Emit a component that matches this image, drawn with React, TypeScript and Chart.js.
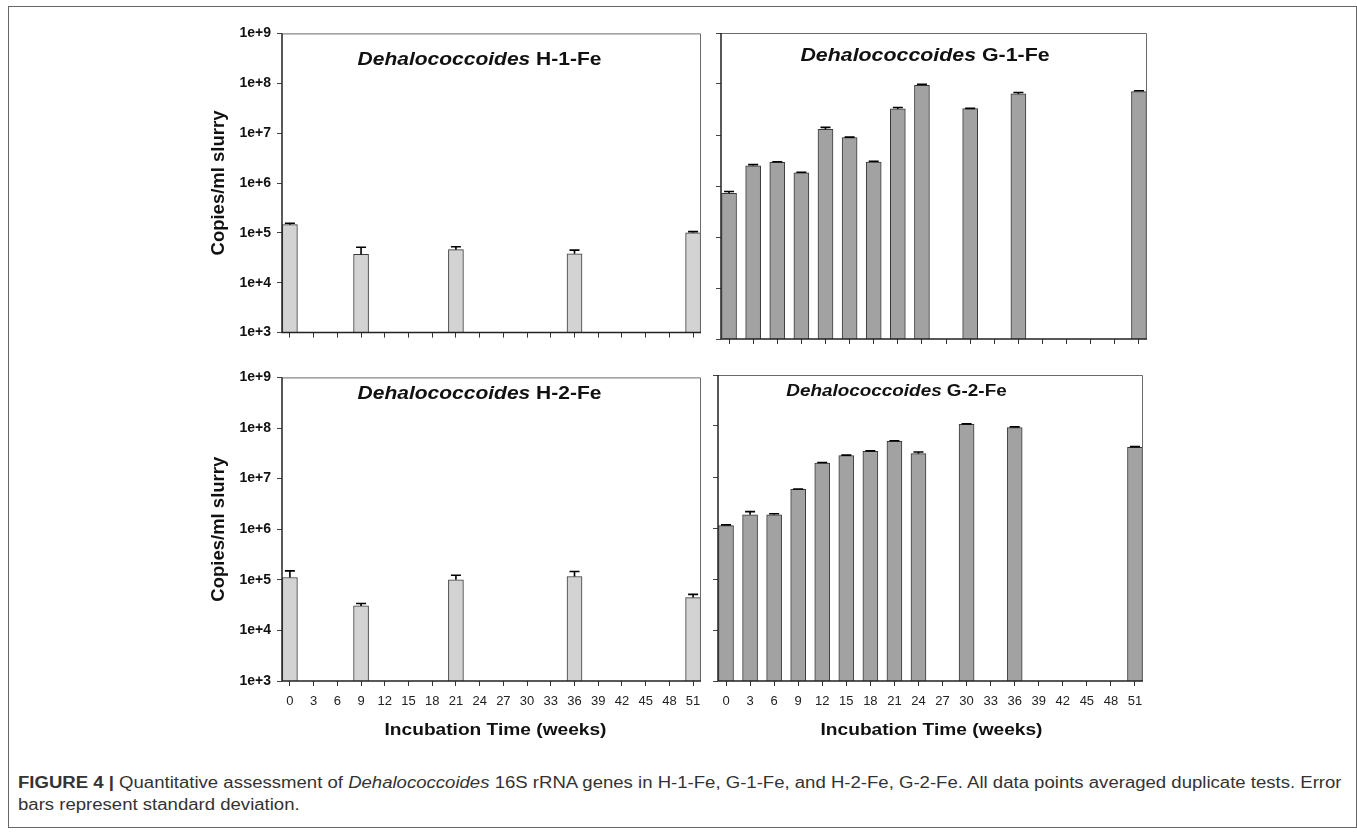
import React, { useEffect, useRef } from "react";
import { Chart, registerables } from "chart.js";

Chart.register(...registerables);

const FONT = '"Liberation Sans", Arial, Helvetica, sans-serif';

// ---------- data ----------
const weeks = [0, 3, 6, 9, 12, 15, 18, 21, 24, 27, 30, 33, 36, 39, 42, 45, 48, 51];
const yTickValues = [1e3, 1e4, 1e5, 1e6, 1e7, 1e8, 1e9];

const h1Values = [1.46e5, null, null, 3.7e4, null, null, null, 4.6e4, null, null, null, null, 3.8e4, null, null, null, null, 1.0e5];
const h1Errors = [0.1e5, null, null, 1.45e4, null, null, null, 0.65e4, null, null, null, null, 0.7e4, null, null, null, null, 0.06e5];

const g1Values = [7.2e5, 2.5e6, 2.9e6, 1.82e6, 1.29e7, 8.9e6, 2.95e6, 3.25e7, 9.4e7, null, 3.3e7, null, 6.4e7, null, null, null, null, 7.1e7];
const g1Errors = [0.6e5, 1.2e5, 0.9e5, 0.4e5, 1.2e6, 0.2e6, 0.1e6, 2.0e6, 4.5e6, null, 0.3e6, null, 4.0e6, null, null, null, null, 2.5e6];

const h2Values = [1.11e5, null, null, 3.05e4, null, null, null, 1.0e5, null, null, null, null, 1.16e5, null, null, null, null, 4.45e4];
const h2Errors = [0.39e5, null, null, 0.34e4, null, null, null, 0.23e5, null, null, null, null, 0.3e5, null, null, null, null, 0.7e4];

const g2Values = [1.11e6, 1.82e6, 1.82e6, 5.7e6, 1.88e7, 2.62e7, 3.18e7, 5.0e7, 2.87e7, null, 1.08e8, null, 9.3e7, null, null, null, null, 3.82e7];
const g2Errors = [0.04e6, 0.27e6, 0.08e6, 0.1e6, 0.5e6, 0.6e6, 0.8e6, 1.5e6, 2.2e6, null, 2.0e6, null, 3.0e6, null, null, null, null, 1.2e6];

const genusName = "Dehalococcoides";
const yAxisTitle = "Copies/ml slurry";
const xAxisTitle = "Incubation Time (weeks)";

// ---------- layout / style ----------
type Area = { l: number; t: number; r: number; b: number };
type PanelCfg = {
  id: string;
  label: string;
  values: (number | null)[];
  errors: (number | null)[];
  fill: string;
  area: Area;
  yLabels: boolean;
  xLabels: boolean;
  titleSize: number;
  titleScale: number;
  titleDx: number;
  titleDy: number;
  xTitleDx: number;
};

const panels: PanelCfg[] = [
  { id: "h1", label: " H-1-Fe", values: h1Values, errors: h1Errors, fill: "#d3d3d3", area: { l: 282, t: 31, r: 701, b: 337 }, yLabels: true, xLabels: false, titleSize: 17.5, titleScale: 1.2, titleDx: -12, titleDy: 27, xTitleDx: 0 },
  { id: "g1", label: " G-1-Fe", values: g1Values, errors: g1Errors, fill: "#a2a2a2", area: { l: 721, t: 33, r: 1147, b: 339 }, yLabels: false, xLabels: false, titleSize: 17.5, titleScale: 1.22, titleDx: -9, titleDy: 23, xTitleDx: 0 },
  { id: "h2", label: " H-2-Fe", values: h2Values, errors: h2Errors, fill: "#d3d3d3", area: { l: 282, t: 375, r: 701, b: 681 }, yLabels: true, xLabels: true, titleSize: 17.5, titleScale: 1.2, titleDx: -12, titleDy: 17, xTitleDx: 4 },
  { id: "g2", label: " G-2-Fe", values: g2Values, errors: g2Errors, fill: "#a2a2a2", area: { l: 718, t: 375, r: 1143, b: 681 }, yLabels: false, xLabels: true, titleSize: 16, titleScale: 1.18, titleDx: -34, titleDy: 17, xTitleDx: 1 },
];

function Panel({ cfg }: { cfg: PanelCfg }) {
  const ref = useRef<HTMLCanvasElement>(null);
  const yW = cfg.yLabels ? 78 : 10;
  const xH = cfg.xLabels ? 63 : 10;
  const padT = 12;
  const padR = 14;
  const left = cfg.area.l - yW;
  const top = cfg.area.t - padT;
  const width = cfg.area.r + padR - left;
  const height = cfg.area.b + xH - top;

  useEffect(() => {
    const canvas = ref.current;
    if (!canvas) return;
    const points: { x: number; y: number }[] = [];
    weeks.forEach((w, i) => {
      const v = cfg.values[i];
      if (v != null) points.push({ x: w, y: v });
    });

    const errorBars = {
      id: "errorBars" + cfg.id,
      afterDatasetsDraw(chart: any) {
        const { ctx, scales } = chart;
        const xs = scales.x;
        const ys = scales.y;
        ctx.save();
        ctx.strokeStyle = "#000";
        ctx.lineWidth = 1.6;
        weeks.forEach((w, i) => {
          const v = cfg.values[i];
          const e = cfg.errors[i];
          if (v == null || e == null) return;
          const px = xs.getPixelForValue(w);
          const y0 = ys.getPixelForValue(v);
          const y1 = ys.getPixelForValue(v + e);
          ctx.beginPath();
          ctx.moveTo(px, y0);
          ctx.lineTo(px, y1);
          ctx.moveTo(px - 5, y1);
          ctx.lineTo(px + 5, y1);
          ctx.stroke();
        });
        ctx.restore();
      },
    };

    const frame = {
      id: "frame" + cfg.id,
      afterDatasetsDraw(chart: any) {
        const { ctx, chartArea: a } = chart;
        ctx.save();
        ctx.lineWidth = 1;
        ctx.strokeStyle = "#6a6a6a";
        ctx.beginPath();
        ctx.moveTo(a.left, a.top + 0.5);
        ctx.lineTo(a.right - 0.5, a.top + 0.5);
        ctx.lineTo(a.right - 0.5, a.bottom);
        ctx.stroke();
        ctx.strokeStyle = "#222";
        ctx.lineWidth = 1.5;
        ctx.beginPath();
        ctx.moveTo(a.left, a.top);
        ctx.lineTo(a.left, a.bottom);
        ctx.lineTo(a.right, a.bottom);
        ctx.stroke();
        ctx.restore();
      },
    };

    const textPlugin = {
      id: "panelText" + cfg.id,
      afterDraw(chart: any) {
        const { ctx, chartArea: a } = chart;
        // panel title: italic genus + bold strain label
        const s = cfg.titleSize;
        const cx = (a.left + a.right) / 2 + cfg.titleDx;
        const cy = a.top + cfg.titleDy;
        ctx.save();
        ctx.fillStyle = "#111";
        ctx.textBaseline = "middle";
        ctx.textAlign = "left";
        const fItalic = `italic bold ${s}px ${FONT}`;
        const fBold = `bold ${s}px ${FONT}`;
        ctx.font = fItalic;
        const w1 = ctx.measureText(genusName).width;
        ctx.font = fBold;
        const w2 = ctx.measureText(cfg.label).width;
        ctx.translate(cx, cy);
        ctx.scale(cfg.titleScale, 1);
        const x0 = -(w1 + w2) / 2;
        ctx.font = fItalic;
        ctx.fillText(genusName, x0, 0);
        ctx.font = fBold;
        ctx.fillText(cfg.label, x0 + w1, 0);
        ctx.restore();

        // x axis title
        if (cfg.xLabels) {
          ctx.save();
          ctx.fillStyle = "#111";
          ctx.textBaseline = "middle";
          ctx.textAlign = "center";
          ctx.font = `bold 16.5px ${FONT}`;
          ctx.translate((a.left + a.right) / 2 + cfg.xTitleDx, a.bottom + 49);
          ctx.scale(1.16, 1);
          ctx.fillText(xAxisTitle, 0, 0);
          ctx.restore();
        }
      },
    };

    const chart = new Chart(canvas, {
      type: "bar",
      data: {
        datasets: [
          {
            data: points as any,
            backgroundColor: cfg.fill,
            borderColor: "#3a3a3a",
            borderWidth: 1,
            barThickness: 15,
          },
        ],
      },
      options: {
        responsive: false,
        maintainAspectRatio: false,
        animation: false,
        events: [],
        layout: { padding: { left: 0, top: padT, right: padR, bottom: 0 } },
        plugins: {
          legend: { display: false },
          tooltip: { enabled: false },
          title: { display: false },
        },
        scales: {
          x: {
            type: "linear",
            position: "bottom",
            min: -1,
            max: 52,
            offset: false,
            afterBuildTicks: (s: any) => {
              s.ticks = weeks.map((v) => ({ value: v }));
            },
            afterFit: (s: any) => {
              s.height = xH;
            },
            grid: {
              offset: false,
              drawOnChartArea: false,
              drawTicks: true,
              tickLength: 5,
              tickColor: "#333",
              lineWidth: 1,
            },
            border: { display: false },
            ticks: {
              display: cfg.xLabels,
              autoSkip: false,
              maxRotation: 0,
              padding: 8,
              color: "#222",
              font: { family: FONT, size: 13 },
              callback: (v: any) => String(v),
            },
            title: { display: false },
          },
          y: {
            type: "logarithmic",
            min: 1e3,
            max: 1e9,
            afterBuildTicks: (s: any) => {
              s.ticks = yTickValues.map((v) => ({ value: v }));
            },
            afterFit: (s: any) => {
              s.width = yW;
            },
            grid: {
              drawOnChartArea: false,
              drawTicks: true,
              tickLength: 5,
              tickColor: "#444",
              lineWidth: 1,
            },
            border: { display: false },
            ticks: {
              display: cfg.yLabels,
              padding: 6,
              color: "#111",
              font: { family: FONT, size: 14, weight: "bold" },
              callback: (v: any) => "1e+" + Math.round(Math.log10(Number(v))),
            },
            title: {
              display: cfg.yLabels,
              text: yAxisTitle,
              color: "#111",
              font: { family: FONT, size: 18.5, weight: "bold" },
              padding: { top: 4, bottom: 4 },
            },
          },
        },
      } as any,
      plugins: [frame, errorBars, textPlugin],
    });
    return () => chart.destroy();
  }, []);

  return (
    <canvas
      ref={ref}
      width={width}
      height={height}
      style={{ position: "absolute", left, top, width, height }}
    />
  );
}

export default function App() {
  return (
    <div
      style={{
        position: "absolute",
        left: 0,
        top: 0,
        width: 1357,
        height: 833,
        overflow: "hidden",
        background: "#fff",
        fontFamily: FONT,
      }}
    >
      <div
        style={{
          position: "absolute",
          left: 8,
          top: 6,
          width: 1349,
          height: 822,
          border: "1px solid #666",
          boxSizing: "border-box",
        }}
      />
      {panels.map((p) => (
        <Panel key={p.id} cfg={p} />
      ))}
      <div
        style={{
          position: "absolute",
          left: 18,
          top: 772,
          fontSize: 16,
          lineHeight: "22px",
          color: "#333",
          whiteSpace: "nowrap",
          transform: "scaleX(1.16)",
          transformOrigin: "0 0",
        }}
      >
        <div>
          <b>FIGURE 4 |</b> Quantitative assessment of <i>Dehalococcoides</i> 16S rRNA genes in H-1-Fe, G-1-Fe, and H-2-Fe, G-2-Fe. All data points averaged duplicate tests. Error
        </div>
        <div>bars represent standard deviation.</div>
      </div>
    </div>
  );
}
